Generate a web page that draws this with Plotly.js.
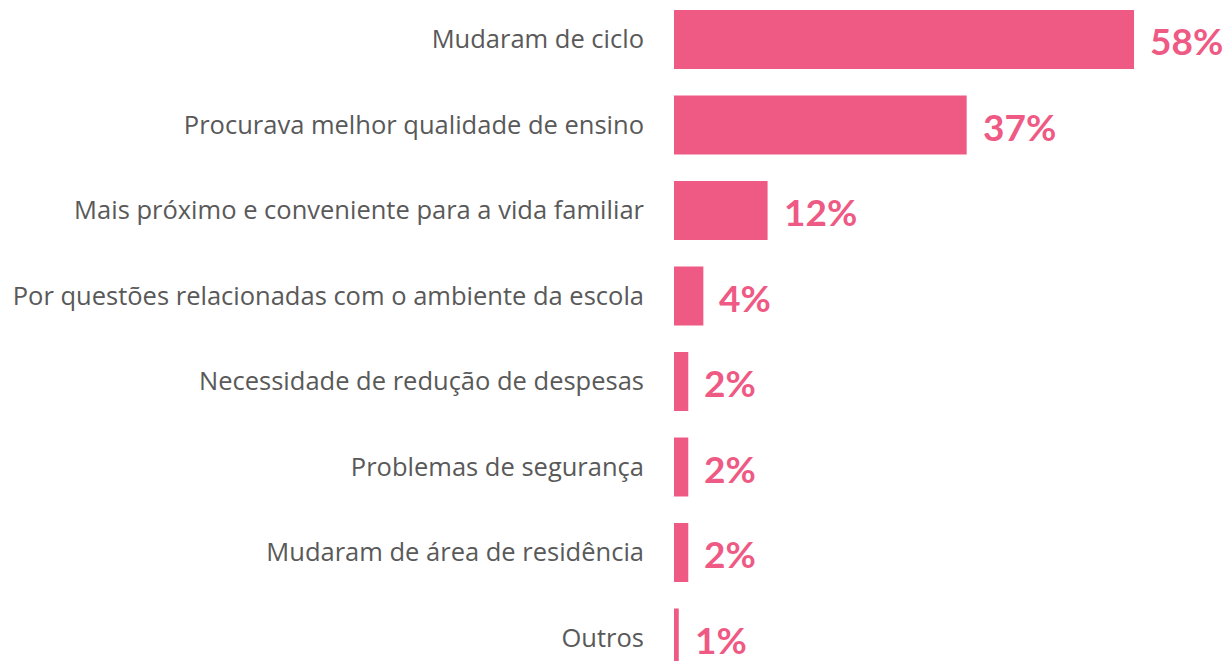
<!DOCTYPE html>
<html>
<head>
<meta charset="utf-8">
<script src="https://cdn.plot.ly/plotly-3.0.1.min.js"></script>
<style>html,body{margin:0;padding:0;background:#fff;}#chart{width:1230px;height:661px;}</style>
</head>
<body>
<div id="chart"></div>
<script>
const categories = [
  "Mudaram de ciclo",
  "Procurava melhor qualidade de ensino",
  "Mais próximo e conveniente para a vida familiar",
  "Por questões relacionadas com o ambiente da escola",
  "Necessidade de redução de despesas",
  "Problemas de segurança",
  "Mudaram de área de residência",
  "Outros"
];
const values = [58, 36.9, 11.8, 3.7, 1.8, 1.8, 1.8, 0.6];
const labels = values.map(v => Math.round(v) + "%");

const pink = "#EE5A84";

const trace = {
  type: "bar",
  orientation: "h",
  y: categories,
  x: values,
  marker: { color: pink },
  hoverinfo: "none"
};

const annotations = categories.map((c, i) => ({
  x: values[i], y: c, xref: "x", yref: "y",
  text: "<b>" + labels[i] + "</b>",
  showarrow: false, xanchor: "left", yanchor: "middle",
  xshift: 14, yshift: -1,
  font: { family: "Lato, 'Open Sans', sans-serif", size: 37, color: pink }
}));

const layout = {
  width: 1230, height: 661,
  margin: { l: 674, r: 0, t: 0, b: 0, pad: 0 },
  paper_bgcolor: "#fff", plot_bgcolor: "#fff",
  showlegend: false,
  bargap: 0.31,
  xaxis: { range: [0, 70.1], visible: false, fixedrange: true },
  yaxis: {
    type: "category",
    range: [7.269, -0.462],
    autorange: false,
    showgrid: false, zeroline: false, showline: false,
    ticks: "", ticklabelstandoff: 29,
    tickfont: { family: "'Open Sans', sans-serif", size: 25.5, color: "#595959" }
  },
  annotations: annotations
};

Plotly.newPlot("chart", [trace], layout, { displayModeBar: false, staticPlot: true });
</script>
</body>
</html>
